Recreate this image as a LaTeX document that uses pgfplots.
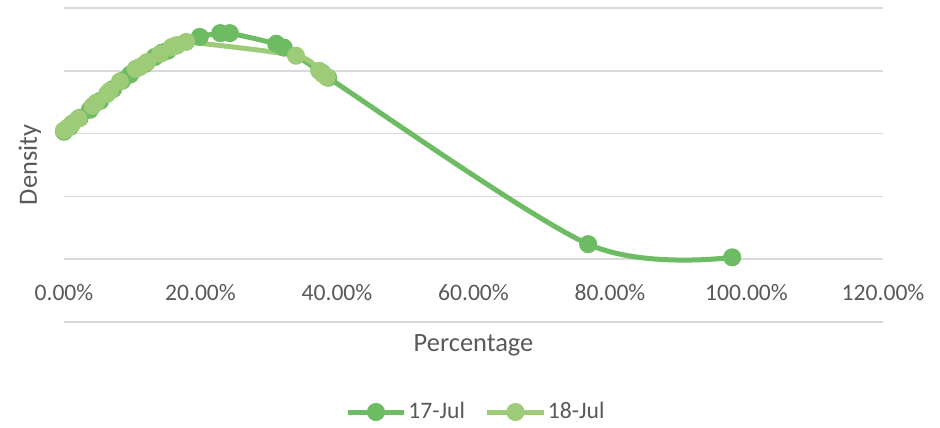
\documentclass[border=0pt]{standalone}
\usepackage{pgfplots}
\pgfplotsset{compat=1.18}
\usepackage{fontspec}
\setmainfont{Carlito}
\definecolor{darkg}{HTML}{6DBB63}
\definecolor{lightg}{HTML}{9DCB78}
\definecolor{gridc}{HTML}{D9D9D9}
\definecolor{txt}{HTML}{595959}
\begin{document}
\begin{tikzpicture}
\begin{axis}[
  width=409.5pt, height=157pt, scale only axis,
  xmin=0, xmax=1.2, ymin=-1, ymax=4,
  xtick={0,0.2,0.4,0.6,0.8,1,1.2},
  xticklabels={0.00\%,20.00\%,40.00\%,60.00\%,80.00\%,100.00\%,120.00\%},
  ytick={-1,0,1,2,3,4}, yticklabels={},
  ymajorgrids, grid style={gridc, line width=0.75pt},
  axis line style={draw=none}, tick style={draw=none},
  xticklabel style={anchor=center, yshift=14.5pt, font=\fontsize{11.8}{14}\selectfont, text=txt},
  xlabel={Percentage}, ylabel={Density},
  xlabel style={at={(axis description cs:0.5,-0.0732)}, anchor=center, font=\fontsize{13.2}{16}\selectfont, text=txt},
  ylabel style={at={(axis description cs:-0.0415,0.5)}, anchor=center, font=\fontsize{13.2}{16}\selectfont, text=txt},
  legend style={at={(axis description cs:0.503,-0.2866)}, anchor=center, draw=none, legend columns=2,
    font=\fontsize{11.8}{14}\selectfont, text=txt, nodes={inner xsep=1pt},
    /tikz/every even column/.append style={column sep=9pt}},
  legend image code/.code={\draw[#1, mark repeat=2, mark phase=2] plot coordinates {(0pt,0pt) (14pt,0pt) (28pt,0pt)};},
  clip=false,
]
\addplot[darkg, line width=2.5pt, smooth, mark=*, mark size=3.25pt, mark options={draw=none, fill=darkg}] coordinates {
(0.000,2.03) (0.009,2.11) (0.023,2.25) (0.038,2.38) (0.053,2.52) (0.072,2.71) (0.085,2.84) (0.097,2.94)
(0.119,3.11) (0.133,3.22) (0.144,3.29) (0.152,3.32) (0.164,3.40) (0.199,3.54) (0.229,3.60) (0.243,3.60)
(0.311,3.43) (0.322,3.37) (0.378,2.97) (0.387,2.89) (0.768,0.24) (0.979,0.03)
};
\addlegendentry{17-Jul}
\addplot[lightg, line width=2.5pt, smooth, mark=*, mark size=3.25pt, mark options={draw=none, fill=lightg}] coordinates {
(0.000,2.05) (0.006,2.10) (0.012,2.16) (0.021,2.24) (0.042,2.44) (0.047,2.49) (0.063,2.63) (0.067,2.68)
(0.082,2.83) (0.105,3.03) (0.111,3.06) (0.122,3.14) (0.141,3.27) (0.158,3.38) (0.166,3.41) (0.179,3.46)
(0.340,3.24) (0.374,3.00) (0.379,2.95) (0.385,2.90)
};
\addlegendentry{18-Jul}
\coordinate (bbl) at (axis description cs:-0.0781,-0.3344);
\coordinate (btr) at (axis description cs:1.0696,1.0255);
\end{axis}
\pgfresetboundingbox
\path (bbl) rectangle (btr);
\end{tikzpicture}
\end{document}
